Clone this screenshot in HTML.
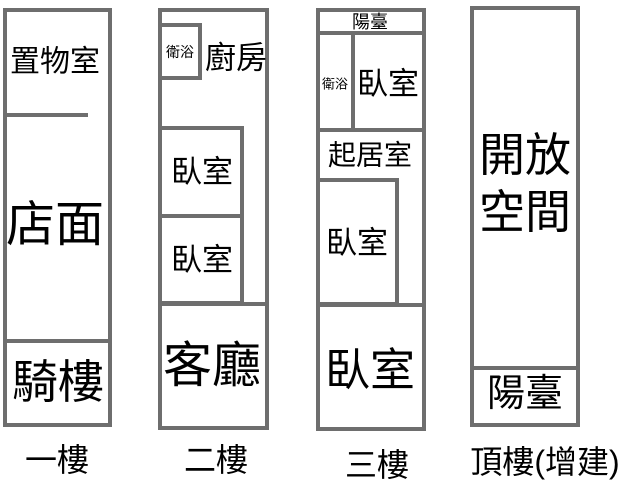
<!DOCTYPE html>
<html><head><meta charset="utf-8"><style>
html,body{margin:0;padding:0;background:#fff;width:634px;height:480px;overflow:hidden}
svg{display:block}
text{font-family:"Liberation Sans","Noto Sans CJK TC","Noto Sans CJK SC",sans-serif;fill:#000;text-anchor:middle;dominant-baseline:central}
line,rect{stroke:#6e6e6e;stroke-width:4;fill:none}
</style></head><body>
<svg width="634" height="480" viewBox="0 0 634 480">
<!-- B1 -->
<rect x="5" y="10" width="105" height="415"/>
<line x1="5" y1="115" x2="88" y2="115"/>
<line x1="5" y1="341" x2="110" y2="341"/>
<text x="55" y="62" font-size="30">置物室</text>
<text x="55" y="225" font-size="49">店面</text>
<text x="58" y="382" font-size="46">騎樓</text>
<!-- B2 -->
<rect x="160" y="10" width="107" height="418"/>
<rect x="160" y="25" width="40" height="53"/>
<text x="180" y="52" font-size="14">衛浴</text>
<text x="236" y="58" font-size="31">廚房</text>
<rect x="160" y="128" width="82" height="175"/>
<line x1="160" y1="216" x2="242" y2="216"/>
<text x="202" y="172" font-size="31">臥室</text>
<text x="202" y="260" font-size="31">臥室</text>
<line x1="160" y1="304" x2="267" y2="304"/>
<text x="212" y="366" font-size="49">客廳</text>
<!-- B3 -->
<rect x="318" y="10" width="106" height="419"/>
<line x1="318" y1="33" x2="424" y2="33"/>
<text x="370" y="22" font-size="18">陽臺</text>
<line x1="353" y1="33" x2="353" y2="130"/>
<line x1="318" y1="130" x2="424" y2="130"/>
<text x="335" y="84" font-size="13">衛浴</text>
<text x="388" y="84" font-size="31">臥室</text>
<text x="370" y="155" font-size="28">起居室</text>
<rect x="318" y="180" width="79" height="124"/>
<text x="357" y="243" font-size="31">臥室</text>
<line x1="318" y1="305" x2="424" y2="305"/>
<text x="370" y="370" font-size="45">臥室</text>
<!-- B4 -->
<rect x="472" y="8" width="106" height="417"/>
<line x1="472" y1="368" x2="578" y2="368"/>
<text x="525" y="155" font-size="46">開放</text>
<text x="525" y="212" font-size="46">空間</text>
<text x="525" y="394" font-size="38">陽臺</text>
<!-- labels -->
<text x="57" y="460" font-size="32">一樓</text>
<text x="216" y="460" font-size="32">二樓</text>
<text x="377" y="465" font-size="32">三樓</text>
<text x="545" y="462" font-size="32">頂樓(增建)</text>
</svg>
</body></html>
